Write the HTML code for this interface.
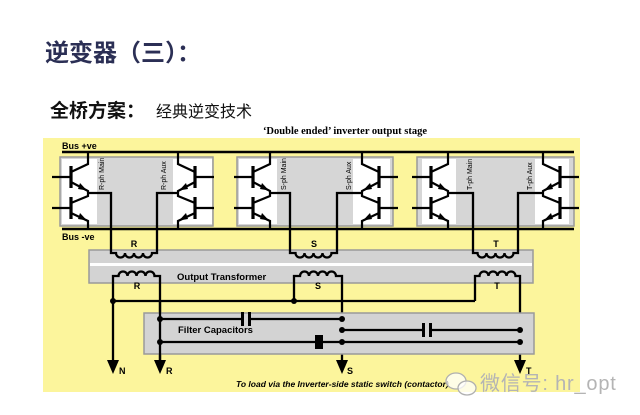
<!DOCTYPE html>
<html><head><meta charset="utf-8"><style>
html,body{margin:0;padding:0;background:#fff;width:640px;height:415px;overflow:hidden}
svg{display:block}
</style></head><body>
<svg width="640" height="415" viewBox="0 0 640 415" xmlns="http://www.w3.org/2000/svg">
<defs>
<g id="tp" stroke="#000" stroke-width="2.2" fill="none">
  <line x1="-36" y1="177" x2="-17" y2="177"/>
  <line x1="-36" y1="208" x2="-17" y2="208"/>
  <line x1="-17" y1="166" x2="-17" y2="188" stroke-width="3.2"/>
  <line x1="-17" y1="197" x2="-17" y2="219" stroke-width="3.2"/>
  <polyline points="0,152 0,164 -17,172"/>
  <polyline points="-17,182 0,191 0,196 -17,203"/>
  <polyline points="-17,213 0,221 0,229"/>
  <polygon points="-1,190.5 -8,183 -10,189" fill="#000" stroke="none"/>
  <polygon points="-1,220.5 -8,213 -10,219" fill="#000" stroke="none"/>
</g>
</defs>
<rect width="640" height="415" fill="#fff"/>
<text x="45" y="61" font-family="'Liberation Sans','Noto Sans CJK SC',sans-serif" font-size="24" font-weight="bold" fill="#2b2f55">逆变器（三）：</text>
<text x="50" y="117" font-family="'Liberation Sans','Noto Sans CJK SC',sans-serif" font-size="19" font-weight="bold" fill="#111">全桥方案：</text>
<text x="156" y="117" font-family="'Liberation Sans','Noto Sans CJK SC',sans-serif" font-size="16" fill="#111">经典逆变技术</text>

<rect x="43" y="138" width="537" height="254" fill="#fcf59c"/>
<text x="345" y="134" text-anchor="middle" font-family="'Liberation Serif',serif" font-size="10.5" font-weight="bold" fill="#000">‘Double ended’ inverter output stage</text>

<g fill="#d6d6d6" stroke="#9a9a9a" stroke-width="1.5">
  <rect x="60" y="157" width="153" height="69"/>
  <rect x="237" y="157" width="156" height="69"/>
  <rect x="417" y="157" width="157" height="69"/>
</g>
<g fill="#fff">
  <rect x="62" y="159" width="35" height="65"/>
  <rect x="173" y="159" width="39" height="65"/>
  <rect x="239" y="159" width="38" height="65"/>
  <rect x="353" y="159" width="37" height="65"/>
  <rect x="422" y="159" width="34" height="65"/>
  <rect x="535" y="159" width="34" height="65"/>
</g>
<g font-family="'Liberation Sans',sans-serif" font-size="7" fill="#000">
  <text transform="translate(104,190) rotate(-90)">R-ph Main</text>
  <text transform="translate(166,190) rotate(-90)">R-ph Aux</text>
  <text transform="translate(286,190) rotate(-90)">S-ph Main</text>
  <text transform="translate(351,190) rotate(-90)">S-ph Aux</text>
  <text transform="translate(472,190) rotate(-90)">T-ph Main</text>
  <text transform="translate(532,190) rotate(-90)">T-ph Aux</text>
</g>

<g stroke="#000" stroke-width="2.5">
  <line x1="62" y1="152" x2="574" y2="152"/>
  <line x1="62" y1="229" x2="574" y2="229"/>
</g>
<g font-family="'Liberation Sans',sans-serif" font-size="9" font-weight="bold" fill="#000">
  <text x="62" y="149">Bus +ve</text>
  <text x="62" y="240">Bus -ve</text>
</g>

<use href="#tp" transform="translate(88,0)"/>
<use href="#tp" transform="translate(178,0) scale(-1,1)"/>
<use href="#tp" transform="translate(270,0)"/>
<use href="#tp" transform="translate(362,0) scale(-1,1)"/>
<use href="#tp" transform="translate(448,0)"/>
<use href="#tp" transform="translate(543,0) scale(-1,1)"/>

<rect x="89" y="250" width="444" height="33" fill="#d3d3d3" stroke="#9a9a9a" stroke-width="1.5"/>
<rect x="90" y="263" width="442" height="3" fill="#fff"/>

<g stroke="#000" stroke-width="2.3" fill="none">
  <path d="M88,193 H111 V253 h5 a4.5,4.5 0 0 0 9,0 a4.5,4.5 0 0 0 9,0 a4.5,4.5 0 0 0 9,0 a4.5,4.5 0 0 0 9,0 H157 V193 H178"/>
  <path d="M270,193 H290 V253 h5.5 a4.5,4.5 0 0 0 9,0 a4.5,4.5 0 0 0 9,0 a4.5,4.5 0 0 0 9,0 a4.5,4.5 0 0 0 9,0 H337 V193 H362"/>
  <path d="M448,193 H473 V253 h4.5 a4.5,4.5 0 0 0 9,0 a4.5,4.5 0 0 0 9,0 a4.5,4.5 0 0 0 9,0 a4.5,4.5 0 0 0 9,0 H518 V193 H543"/>
  <path d="M113,362 V276 h5.5 a4.5,4.5 0 0 1 9,0 a4.5,4.5 0 0 1 9,0 a4.5,4.5 0 0 1 9,0 a4.5,4.5 0 0 1 9,0 H160 V362"/>
  <path d="M294,301 V276 h6 a4.5,4.5 0 0 1 9,0 a4.5,4.5 0 0 1 9,0 a4.5,4.5 0 0 1 9,0 a4.5,4.5 0 0 1 9,0 H342 V362"/>
  <path d="M475,301 V276 h4.5 a4.5,4.5 0 0 1 9,0 a4.5,4.5 0 0 1 9,0 a4.5,4.5 0 0 1 9,0 a4.5,4.5 0 0 1 9,0 H520 V362"/>
  <line x1="113" y1="301" x2="475" y2="301"/>
</g>
<g font-family="'Liberation Sans',sans-serif" font-size="9" font-weight="bold" fill="#000" text-anchor="middle">
  <text x="134" y="247">R</text><text x="314" y="247">S</text><text x="496" y="247">T</text>
  <text x="137" y="289">R</text><text x="318" y="289">S</text><text x="497" y="289">T</text>
</g>
<text x="177" y="280" font-family="'Liberation Sans',sans-serif" font-size="9.5" font-weight="bold" fill="#000">Output Transformer</text>

<rect x="144" y="313" width="390" height="41" fill="#d3d3d3" stroke="#9a9a9a" stroke-width="1.5"/>
<text x="178" y="333" font-family="'Liberation Sans',sans-serif" font-size="9.5" font-weight="bold" fill="#000">Filter Capacitors</text>
<g stroke="#000" stroke-width="2.3" fill="none">
  <line x1="160" y1="319" x2="243" y2="319"/><line x1="249" y1="319" x2="342" y2="319"/>
  <line x1="342" y1="330" x2="424" y2="330"/><line x1="430" y1="330" x2="520" y2="330"/>
  <line x1="160" y1="342" x2="520" y2="342"/>
  <line x1="160" y1="301" x2="160" y2="362"/>
</g>
<g fill="#000">
  <rect x="241" y="312" width="3" height="14"/><rect x="248" y="312" width="3" height="14"/>
  <rect x="422" y="323" width="3" height="14"/><rect x="429" y="323" width="3" height="14"/>
  <rect x="315" y="335" width="8" height="14"/>
  <circle cx="113" cy="301" r="3"/><circle cx="294" cy="301" r="3"/>
  <circle cx="160" cy="319" r="3"/><circle cx="342" cy="319" r="3"/>
  <circle cx="342" cy="330" r="3"/><circle cx="520" cy="330" r="3"/>
  <circle cx="160" cy="342" r="3"/><circle cx="342" cy="342" r="3"/><circle cx="520" cy="342" r="3"/>
  <polygon points="107,360 119,360 113,374"/>
  <polygon points="154,360 166,360 160,374"/>
  <polygon points="336,360 348,360 342,374"/>
  <polygon points="514,360 526,360 520,374"/>
</g>
<g font-family="'Liberation Sans',sans-serif" font-size="9" font-weight="bold" fill="#000">
  <text x="119" y="374">N</text><text x="166" y="374">R</text><text x="347" y="374">S</text><text x="526" y="374">T</text>
</g>
<text x="236" y="387" font-family="'Liberation Sans',sans-serif" font-size="8.5" font-weight="bold" font-style="italic" fill="#000">To load via the Inverter-side static switch (contactor)</text>

<g fill="rgba(255,255,255,0.75)" stroke="#b0b0b0" stroke-width="1.3">
  <ellipse cx="456" cy="381" rx="10" ry="8"/>
  <ellipse cx="467" cy="388" rx="9" ry="7"/>
</g>
<text x="480" y="390" font-family="'Liberation Sans','Noto Sans CJK SC',sans-serif" font-size="20" letter-spacing="0.8" fill="#b4b4b4">微信号: hr_opt</text>
</svg>
</body></html>
